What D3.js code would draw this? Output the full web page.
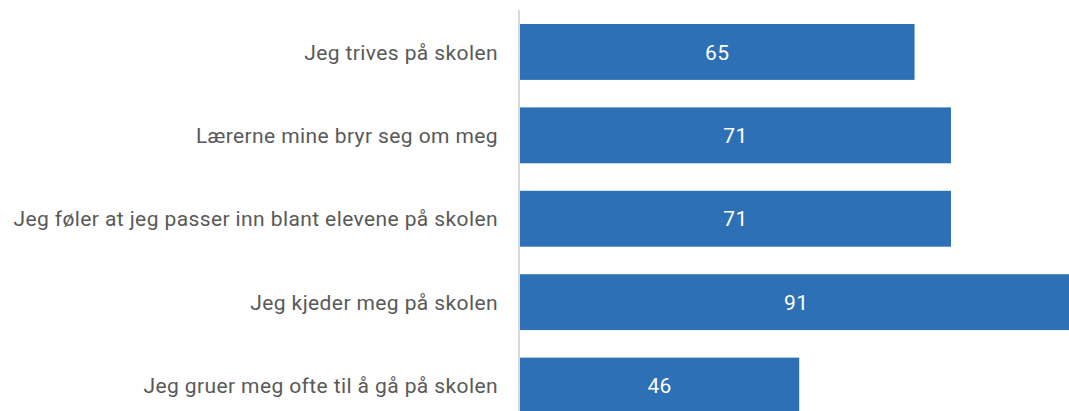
<!DOCTYPE html>
<html>
<head>
<meta charset="utf-8">
<script src="https://cdn.jsdelivr.net/npm/d3@7"></script>
<style>
  body { margin: 0; background: #fff; }
  svg { display: block; }
</style>
</head>
<body>
<svg id="chart" width="1069" height="411"></svg>
<script>
var categories = [
  "Jeg trives på skolen",
  "Lærerne mine bryr seg om meg",
  "Jeg føler at jeg passer inn blant elevene på skolen",
  "Jeg kjeder meg på skolen",
  "Jeg gruer meg ofte til å gå på skolen"
];
var values = [65, 71, 71, 91, 46];

var svg = d3.select("#chart");
var left = 520;

var x = d3.scaleLinear().domain([0, 100]).range([left, left + 607]);
var y = d3.scaleBand().domain(categories).range([10, 427.5])
  .paddingInner(0.33).paddingOuter(0.168);

var data = categories.map(function(c, i) { return { cat: c, val: values[i] }; });

svg.selectAll("rect.bar").data(data).enter().append("rect")
  .attr("class", "bar")
  .attr("x", x(0))
  .attr("y", function(d) { return y(d.cat); })
  .attr("width", function(d) { return x(d.val) - x(0); })
  .attr("height", y.bandwidth())
  .attr("fill", "#2e70b5");

svg.selectAll("text.val").data(data).enter().append("text")
  .attr("class", "val")
  .attr("x", function(d) { return (x(0) + x(d.val)) / 2; })
  .attr("y", function(d) { return y(d.cat) + y.bandwidth() / 2; })
  .attr("dy", "0.36em")
  .attr("text-anchor", "middle")
  .attr("fill", "#fff")
  .style("font-family", "Roboto, sans-serif")
  .style("font-size", "21px")
  .style("letter-spacing", "0.4px")
  .text(function(d) { return d.val; });

// category axis
var yAxis = d3.axisLeft(y).tickSize(0).tickPadding(21);
var g = svg.append("g").attr("transform", "translate(" + (left - 1) + ",0)").call(yAxis);
g.select(".domain").remove();
g.selectAll("text")
  .attr("fill", "#595959")
  .attr("dy", "0.36em")
  .style("font-family", "Roboto, sans-serif")
  .style("font-size", "21px")
  .style("letter-spacing", "0.4px");

svg.append("line")
  .attr("x1", left - 1).attr("x2", left - 1)
  .attr("y1", 10).attr("y2", 411)
  .attr("stroke", "#d9d9d9")
  .attr("stroke-width", 2);
</script>
</body>
</html>
